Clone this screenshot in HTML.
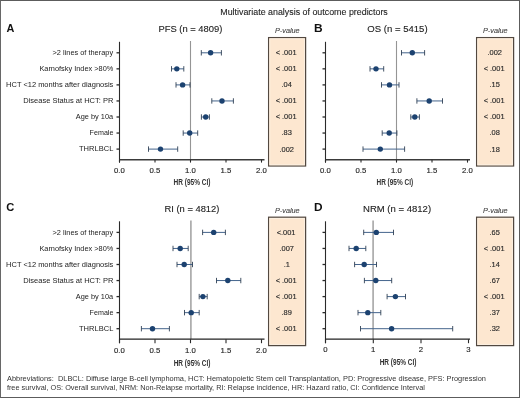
<!DOCTYPE html>
<html><head><meta charset="utf-8"><style>
html,body{margin:0;padding:0;background:#fff;}
body{width:520px;height:398px;overflow:hidden;position:relative;font-family:"Liberation Sans", sans-serif;}
#frame{position:absolute;left:0;top:0;width:518px;height:396px;border:1px solid #5c5c5c;border-left-color:#676767;}
svg{position:absolute;left:0;top:0;will-change:transform;filter:blur(0.3px);}
</style></head><body>
<div id="frame"></div>
<svg width="520" height="398" viewBox="0 0 520 398" font-family='"Liberation Sans", sans-serif'>
<text x="220.27" y="14.80" font-size="8.9" fill="#222" textLength="167.55" lengthAdjust="spacingAndGlyphs" xml:space="preserve" stroke="#222" stroke-width="0.1">Multivariate analysis of outcome predictors</text>
<text x="6.44" y="31.50" font-size="10.4" font-weight="bold" fill="#111" textLength="7.85" lengthAdjust="spacingAndGlyphs" xml:space="preserve">A</text>
<text x="158.43" y="32.20" font-size="9.3" fill="#222" textLength="63.95" lengthAdjust="spacingAndGlyphs" xml:space="preserve" stroke="#222" stroke-width="0.12">PFS (n = 4809)</text>
<line x1="190.5" y1="41" x2="190.5" y2="159.5" stroke="#959595" stroke-width="1.1"/>
<line x1="119.5" y1="41.8" x2="119.5" y2="162.6" stroke="#2a2a2a" stroke-width="1.1"/>
<line x1="119.5" y1="159.7" x2="264.5" y2="159.7" stroke="#3a3a3a" stroke-width="1.45"/>
<line x1="119.5" y1="159.7" x2="119.5" y2="162.6" stroke="#2a2a2a" stroke-width="1.1"/>
<text x="114.00" y="173.00" font-size="7.3" fill="#2a2a2a" textLength="10.80" lengthAdjust="spacingAndGlyphs" stroke="#2a2a2a" stroke-width="0.15">0.0</text>
<line x1="155" y1="159.7" x2="155" y2="162.6" stroke="#2a2a2a" stroke-width="1.1"/>
<text x="149.50" y="173.00" font-size="7.3" fill="#2a2a2a" textLength="10.80" lengthAdjust="spacingAndGlyphs" stroke="#2a2a2a" stroke-width="0.15">0.5</text>
<line x1="190.5" y1="159.7" x2="190.5" y2="162.6" stroke="#2a2a2a" stroke-width="1.1"/>
<text x="185.00" y="173.00" font-size="7.3" fill="#2a2a2a" textLength="10.80" lengthAdjust="spacingAndGlyphs" stroke="#2a2a2a" stroke-width="0.15">1.0</text>
<line x1="226" y1="159.7" x2="226" y2="162.6" stroke="#2a2a2a" stroke-width="1.1"/>
<text x="220.50" y="173.00" font-size="7.3" fill="#2a2a2a" textLength="10.80" lengthAdjust="spacingAndGlyphs" stroke="#2a2a2a" stroke-width="0.15">1.5</text>
<line x1="261.5" y1="159.7" x2="261.5" y2="162.6" stroke="#2a2a2a" stroke-width="1.1"/>
<text x="256.00" y="173.00" font-size="7.3" fill="#2a2a2a" textLength="10.80" lengthAdjust="spacingAndGlyphs" stroke="#2a2a2a" stroke-width="0.15">2.0</text>
<text x="173.57" y="185.10" font-size="8.3" font-weight="bold" fill="#333" textLength="36.95" lengthAdjust="spacingAndGlyphs" xml:space="preserve">HR (95% CI)</text>
<line x1="116.5" y1="52.8" x2="119.5" y2="52.8" stroke="#2a2a2a" stroke-width="1.3"/>
<text x="52.54" y="54.60" font-size="7.75" fill="#222" textLength="60.57" lengthAdjust="spacingAndGlyphs" xml:space="preserve">&gt;2 lines of therapy</text>
<line x1="201.3" y1="52.8" x2="221.4" y2="52.8" stroke="#44648c" stroke-width="1"/>
<line x1="201.3" y1="50.099999999999994" x2="201.3" y2="55.5" stroke="#2f3f54" stroke-width="0.9"/>
<line x1="221.4" y1="50.099999999999994" x2="221.4" y2="55.5" stroke="#2f3f54" stroke-width="0.9"/>
<circle cx="210.6" cy="52.8" r="2.7" fill="#1c4270"/>
<line x1="116.5" y1="68.85" x2="119.5" y2="68.85" stroke="#2a2a2a" stroke-width="1.3"/>
<text x="39.40" y="70.65" font-size="7.75" fill="#222" textLength="73.96" lengthAdjust="spacingAndGlyphs" xml:space="preserve">Karnofsky Index &gt;80%</text>
<line x1="171.5" y1="68.85" x2="183.8" y2="68.85" stroke="#44648c" stroke-width="1"/>
<line x1="171.5" y1="66.14999999999999" x2="171.5" y2="71.55" stroke="#2f3f54" stroke-width="0.9"/>
<line x1="183.8" y1="66.14999999999999" x2="183.8" y2="71.55" stroke="#2f3f54" stroke-width="0.9"/>
<circle cx="176.8" cy="68.85" r="2.7" fill="#1c4270"/>
<line x1="116.5" y1="84.9" x2="119.5" y2="84.9" stroke="#2a2a2a" stroke-width="1.3"/>
<text x="6.09" y="86.70" font-size="7.75" fill="#222" textLength="107.28" lengthAdjust="spacingAndGlyphs" xml:space="preserve">HCT &lt;12 months after diagnosis</text>
<line x1="176" y1="84.9" x2="190" y2="84.9" stroke="#44648c" stroke-width="1"/>
<line x1="176" y1="82.2" x2="176" y2="87.60000000000001" stroke="#2f3f54" stroke-width="0.9"/>
<line x1="190" y1="82.2" x2="190" y2="87.60000000000001" stroke="#2f3f54" stroke-width="0.9"/>
<circle cx="182.6" cy="84.9" r="2.7" fill="#1c4270"/>
<line x1="116.5" y1="100.95" x2="119.5" y2="100.95" stroke="#2a2a2a" stroke-width="1.3"/>
<text x="23.18" y="102.75" font-size="7.75" fill="#222" textLength="90.27" lengthAdjust="spacingAndGlyphs" xml:space="preserve">Disease Status at HCT: PR</text>
<line x1="211.8" y1="100.95" x2="233.4" y2="100.95" stroke="#44648c" stroke-width="1"/>
<line x1="211.8" y1="98.25" x2="211.8" y2="103.65" stroke="#2f3f54" stroke-width="0.9"/>
<line x1="233.4" y1="98.25" x2="233.4" y2="103.65" stroke="#2f3f54" stroke-width="0.9"/>
<circle cx="222" cy="100.95" r="2.7" fill="#1c4270"/>
<line x1="116.5" y1="117.0" x2="119.5" y2="117.0" stroke="#2a2a2a" stroke-width="1.3"/>
<text x="75.79" y="118.80" font-size="7.75" fill="#222" textLength="37.31" lengthAdjust="spacingAndGlyphs" xml:space="preserve">Age by 10a</text>
<line x1="201.4" y1="117.0" x2="209.4" y2="117.0" stroke="#44648c" stroke-width="1"/>
<line x1="201.4" y1="114.3" x2="201.4" y2="119.7" stroke="#2f3f54" stroke-width="0.9"/>
<line x1="209.4" y1="114.3" x2="209.4" y2="119.7" stroke="#2f3f54" stroke-width="0.9"/>
<circle cx="205.7" cy="117.0" r="2.7" fill="#1c4270"/>
<line x1="116.5" y1="133.05" x2="119.5" y2="133.05" stroke="#2a2a2a" stroke-width="1.3"/>
<text x="89.61" y="134.85" font-size="7.75" fill="#222" textLength="23.80" lengthAdjust="spacingAndGlyphs" xml:space="preserve">Female</text>
<line x1="183.2" y1="133.05" x2="197.7" y2="133.05" stroke="#44648c" stroke-width="1"/>
<line x1="183.2" y1="130.35000000000002" x2="183.2" y2="135.75" stroke="#2f3f54" stroke-width="0.9"/>
<line x1="197.7" y1="130.35000000000002" x2="197.7" y2="135.75" stroke="#2f3f54" stroke-width="0.9"/>
<circle cx="189.7" cy="133.05" r="2.7" fill="#1c4270"/>
<line x1="116.5" y1="149.10000000000002" x2="119.5" y2="149.10000000000002" stroke="#2a2a2a" stroke-width="1.3"/>
<text x="79.03" y="150.90" font-size="7.75" fill="#222" textLength="34.31" lengthAdjust="spacingAndGlyphs" xml:space="preserve">THRLBCL</text>
<line x1="148.5" y1="149.10000000000002" x2="177.7" y2="149.10000000000002" stroke="#44648c" stroke-width="1"/>
<line x1="148.5" y1="146.40000000000003" x2="148.5" y2="151.8" stroke="#2f3f54" stroke-width="0.9"/>
<line x1="177.7" y1="146.40000000000003" x2="177.7" y2="151.8" stroke="#2f3f54" stroke-width="0.9"/>
<circle cx="160.5" cy="149.10000000000002" r="2.7" fill="#1c4270"/>
<text x="274.98" y="33.00" font-size="7.4" font-style="italic" fill="#444" textLength="24.68" lengthAdjust="spacingAndGlyphs" xml:space="preserve" stroke="#444" stroke-width="0.12">P-value</text>
<rect x="268.6" y="37.6" width="37" height="128.4" fill="#fde7d0" stroke="#524840" stroke-width="1.25"/>
<rect x="269.8" y="38.800000000000004" width="34.6" height="126" fill="none" stroke="#fcf0e2" stroke-width="0.9"/>
<text x="275.63" y="55.20" font-size="7.6" fill="#2a2a2a" textLength="20.92" lengthAdjust="spacingAndGlyphs" xml:space="preserve" stroke="#2a2a2a" stroke-width="0.15">&lt; .001</text>
<text x="275.63" y="71.25" font-size="7.6" fill="#2a2a2a" textLength="20.92" lengthAdjust="spacingAndGlyphs" xml:space="preserve" stroke="#2a2a2a" stroke-width="0.15">&lt; .001</text>
<text x="281.49" y="87.30" font-size="7.6" fill="#2a2a2a" textLength="10.36" lengthAdjust="spacingAndGlyphs" xml:space="preserve" stroke="#2a2a2a" stroke-width="0.15">.04</text>
<text x="275.63" y="103.35" font-size="7.6" fill="#2a2a2a" textLength="20.92" lengthAdjust="spacingAndGlyphs" xml:space="preserve" stroke="#2a2a2a" stroke-width="0.15">&lt; .001</text>
<text x="275.63" y="119.40" font-size="7.6" fill="#2a2a2a" textLength="20.92" lengthAdjust="spacingAndGlyphs" xml:space="preserve" stroke="#2a2a2a" stroke-width="0.15">&lt; .001</text>
<text x="281.54" y="135.45" font-size="7.6" fill="#2a2a2a" textLength="10.36" lengthAdjust="spacingAndGlyphs" xml:space="preserve" stroke="#2a2a2a" stroke-width="0.15">.83</text>
<text x="279.50" y="151.50" font-size="7.6" fill="#2a2a2a" textLength="14.50" lengthAdjust="spacingAndGlyphs" xml:space="preserve" stroke="#2a2a2a" stroke-width="0.15">.002</text>
<text x="314.11" y="31.50" font-size="10.4" font-weight="bold" fill="#111" textLength="8.63" lengthAdjust="spacingAndGlyphs" xml:space="preserve">B</text>
<text x="367.25" y="32.20" font-size="9.3" fill="#222" textLength="60.34" lengthAdjust="spacingAndGlyphs" xml:space="preserve" stroke="#222" stroke-width="0.12">OS (n = 5415)</text>
<line x1="396.5" y1="41" x2="396.5" y2="159.5" stroke="#959595" stroke-width="1.1"/>
<line x1="325.5" y1="41.8" x2="325.5" y2="162.6" stroke="#2a2a2a" stroke-width="1.1"/>
<line x1="325.5" y1="159.7" x2="470" y2="159.7" stroke="#3a3a3a" stroke-width="1.45"/>
<line x1="325.5" y1="159.7" x2="325.5" y2="162.6" stroke="#2a2a2a" stroke-width="1.1"/>
<text x="320.00" y="172.70" font-size="7.3" fill="#2a2a2a" textLength="10.80" lengthAdjust="spacingAndGlyphs" stroke="#2a2a2a" stroke-width="0.15">0.0</text>
<line x1="361" y1="159.7" x2="361" y2="162.6" stroke="#2a2a2a" stroke-width="1.1"/>
<text x="355.50" y="172.70" font-size="7.3" fill="#2a2a2a" textLength="10.80" lengthAdjust="spacingAndGlyphs" stroke="#2a2a2a" stroke-width="0.15">0.5</text>
<line x1="396.5" y1="159.7" x2="396.5" y2="162.6" stroke="#2a2a2a" stroke-width="1.1"/>
<text x="391.00" y="172.70" font-size="7.3" fill="#2a2a2a" textLength="10.80" lengthAdjust="spacingAndGlyphs" stroke="#2a2a2a" stroke-width="0.15">1.0</text>
<line x1="432" y1="159.7" x2="432" y2="162.6" stroke="#2a2a2a" stroke-width="1.1"/>
<text x="426.50" y="172.70" font-size="7.3" fill="#2a2a2a" textLength="10.80" lengthAdjust="spacingAndGlyphs" stroke="#2a2a2a" stroke-width="0.15">1.5</text>
<line x1="467.5" y1="159.7" x2="467.5" y2="162.6" stroke="#2a2a2a" stroke-width="1.1"/>
<text x="462.00" y="172.70" font-size="7.3" fill="#2a2a2a" textLength="10.80" lengthAdjust="spacingAndGlyphs" stroke="#2a2a2a" stroke-width="0.15">2.0</text>
<text x="376.47" y="184.80" font-size="8.3" font-weight="bold" fill="#333" textLength="36.65" lengthAdjust="spacingAndGlyphs" xml:space="preserve">HR (95% CI)</text>
<line x1="322.5" y1="52.8" x2="325.5" y2="52.8" stroke="#2a2a2a" stroke-width="1.3"/>
<line x1="401.5" y1="52.8" x2="424.6" y2="52.8" stroke="#44648c" stroke-width="1"/>
<line x1="401.5" y1="50.099999999999994" x2="401.5" y2="55.5" stroke="#2f3f54" stroke-width="0.9"/>
<line x1="424.6" y1="50.099999999999994" x2="424.6" y2="55.5" stroke="#2f3f54" stroke-width="0.9"/>
<circle cx="412.3" cy="52.8" r="2.7" fill="#1c4270"/>
<line x1="322.5" y1="68.85" x2="325.5" y2="68.85" stroke="#2a2a2a" stroke-width="1.3"/>
<line x1="370" y1="68.85" x2="383.7" y2="68.85" stroke="#44648c" stroke-width="1"/>
<line x1="370" y1="66.14999999999999" x2="370" y2="71.55" stroke="#2f3f54" stroke-width="0.9"/>
<line x1="383.7" y1="66.14999999999999" x2="383.7" y2="71.55" stroke="#2f3f54" stroke-width="0.9"/>
<circle cx="376" cy="68.85" r="2.7" fill="#1c4270"/>
<line x1="322.5" y1="84.9" x2="325.5" y2="84.9" stroke="#2a2a2a" stroke-width="1.3"/>
<line x1="381.5" y1="84.9" x2="399" y2="84.9" stroke="#44648c" stroke-width="1"/>
<line x1="381.5" y1="82.2" x2="381.5" y2="87.60000000000001" stroke="#2f3f54" stroke-width="0.9"/>
<line x1="399" y1="82.2" x2="399" y2="87.60000000000001" stroke="#2f3f54" stroke-width="0.9"/>
<circle cx="389.5" cy="84.9" r="2.7" fill="#1c4270"/>
<line x1="322.5" y1="100.95" x2="325.5" y2="100.95" stroke="#2a2a2a" stroke-width="1.3"/>
<line x1="416.9" y1="100.95" x2="442.5" y2="100.95" stroke="#44648c" stroke-width="1"/>
<line x1="416.9" y1="98.25" x2="416.9" y2="103.65" stroke="#2f3f54" stroke-width="0.9"/>
<line x1="442.5" y1="98.25" x2="442.5" y2="103.65" stroke="#2f3f54" stroke-width="0.9"/>
<circle cx="429.2" cy="100.95" r="2.7" fill="#1c4270"/>
<line x1="322.5" y1="117.0" x2="325.5" y2="117.0" stroke="#2a2a2a" stroke-width="1.3"/>
<line x1="410.8" y1="117.0" x2="419.4" y2="117.0" stroke="#44648c" stroke-width="1"/>
<line x1="410.8" y1="114.3" x2="410.8" y2="119.7" stroke="#2f3f54" stroke-width="0.9"/>
<line x1="419.4" y1="114.3" x2="419.4" y2="119.7" stroke="#2f3f54" stroke-width="0.9"/>
<circle cx="414.8" cy="117.0" r="2.7" fill="#1c4270"/>
<line x1="322.5" y1="133.05" x2="325.5" y2="133.05" stroke="#2a2a2a" stroke-width="1.3"/>
<line x1="382.2" y1="133.05" x2="396.9" y2="133.05" stroke="#44648c" stroke-width="1"/>
<line x1="382.2" y1="130.35000000000002" x2="382.2" y2="135.75" stroke="#2f3f54" stroke-width="0.9"/>
<line x1="396.9" y1="130.35000000000002" x2="396.9" y2="135.75" stroke="#2f3f54" stroke-width="0.9"/>
<circle cx="389.2" cy="133.05" r="2.7" fill="#1c4270"/>
<line x1="322.5" y1="149.10000000000002" x2="325.5" y2="149.10000000000002" stroke="#2a2a2a" stroke-width="1.3"/>
<line x1="363" y1="149.10000000000002" x2="404.6" y2="149.10000000000002" stroke="#44648c" stroke-width="1"/>
<line x1="363" y1="146.40000000000003" x2="363" y2="151.8" stroke="#2f3f54" stroke-width="0.9"/>
<line x1="404.6" y1="146.40000000000003" x2="404.6" y2="151.8" stroke="#2f3f54" stroke-width="0.9"/>
<circle cx="380.3" cy="149.10000000000002" r="2.7" fill="#1c4270"/>
<text x="482.98" y="33.00" font-size="7.4" font-style="italic" fill="#444" textLength="24.68" lengthAdjust="spacingAndGlyphs" xml:space="preserve" stroke="#444" stroke-width="0.12">P-value</text>
<rect x="476.6" y="37.6" width="37" height="128.4" fill="#fde7d0" stroke="#524840" stroke-width="1.25"/>
<rect x="477.8" y="38.800000000000004" width="34.6" height="126" fill="none" stroke="#fcf0e2" stroke-width="0.9"/>
<text x="487.50" y="55.20" font-size="7.6" fill="#2a2a2a" textLength="14.50" lengthAdjust="spacingAndGlyphs" xml:space="preserve" stroke="#2a2a2a" stroke-width="0.15">.002</text>
<text x="483.63" y="71.25" font-size="7.6" fill="#2a2a2a" textLength="20.92" lengthAdjust="spacingAndGlyphs" xml:space="preserve" stroke="#2a2a2a" stroke-width="0.15">&lt; .001</text>
<text x="489.54" y="87.30" font-size="7.6" fill="#2a2a2a" textLength="10.36" lengthAdjust="spacingAndGlyphs" xml:space="preserve" stroke="#2a2a2a" stroke-width="0.15">.15</text>
<text x="483.63" y="103.35" font-size="7.6" fill="#2a2a2a" textLength="20.92" lengthAdjust="spacingAndGlyphs" xml:space="preserve" stroke="#2a2a2a" stroke-width="0.15">&lt; .001</text>
<text x="483.63" y="119.40" font-size="7.6" fill="#2a2a2a" textLength="20.92" lengthAdjust="spacingAndGlyphs" xml:space="preserve" stroke="#2a2a2a" stroke-width="0.15">&lt; .001</text>
<text x="489.54" y="135.45" font-size="7.6" fill="#2a2a2a" textLength="10.36" lengthAdjust="spacingAndGlyphs" xml:space="preserve" stroke="#2a2a2a" stroke-width="0.15">.08</text>
<text x="489.54" y="151.50" font-size="7.6" fill="#2a2a2a" textLength="10.36" lengthAdjust="spacingAndGlyphs" xml:space="preserve" stroke="#2a2a2a" stroke-width="0.15">.18</text>
<text x="6.24" y="211.00" font-size="10.4" font-weight="bold" fill="#111" textLength="8.06" lengthAdjust="spacingAndGlyphs" xml:space="preserve">C</text>
<text x="164.53" y="212.00" font-size="9.3" fill="#222" textLength="54.85" lengthAdjust="spacingAndGlyphs" xml:space="preserve" stroke="#222" stroke-width="0.12">RI (n = 4812)</text>
<line x1="190.9" y1="220.5" x2="190.9" y2="339.0" stroke="#ababab" stroke-width="1.7"/>
<line x1="119.5" y1="221.3" x2="119.5" y2="343.2" stroke="#2a2a2a" stroke-width="1.1"/>
<line x1="119.5" y1="339.2" x2="264.5" y2="339.2" stroke="#222" stroke-width="1.25"/>
<line x1="119.5" y1="339.2" x2="119.5" y2="343.2" stroke="#2a2a2a" stroke-width="1.1"/>
<text x="114.00" y="353.20" font-size="7.3" fill="#2a2a2a" textLength="10.80" lengthAdjust="spacingAndGlyphs" stroke="#2a2a2a" stroke-width="0.15">0.0</text>
<line x1="155" y1="339.2" x2="155" y2="343.2" stroke="#2a2a2a" stroke-width="1.1"/>
<text x="149.50" y="353.20" font-size="7.3" fill="#2a2a2a" textLength="10.80" lengthAdjust="spacingAndGlyphs" stroke="#2a2a2a" stroke-width="0.15">0.5</text>
<line x1="190.5" y1="339.2" x2="190.5" y2="343.2" stroke="#2a2a2a" stroke-width="1.1"/>
<text x="185.00" y="353.20" font-size="7.3" fill="#2a2a2a" textLength="10.80" lengthAdjust="spacingAndGlyphs" stroke="#2a2a2a" stroke-width="0.15">1.0</text>
<line x1="226" y1="339.2" x2="226" y2="343.2" stroke="#2a2a2a" stroke-width="1.1"/>
<text x="220.50" y="353.20" font-size="7.3" fill="#2a2a2a" textLength="10.80" lengthAdjust="spacingAndGlyphs" stroke="#2a2a2a" stroke-width="0.15">1.5</text>
<line x1="261.5" y1="339.2" x2="261.5" y2="343.2" stroke="#2a2a2a" stroke-width="1.1"/>
<text x="256.00" y="353.20" font-size="7.3" fill="#2a2a2a" textLength="10.80" lengthAdjust="spacingAndGlyphs" stroke="#2a2a2a" stroke-width="0.15">2.0</text>
<text x="173.67" y="366.30" font-size="8.3" font-weight="bold" fill="#333" textLength="36.85" lengthAdjust="spacingAndGlyphs" xml:space="preserve">HR (95% CI)</text>
<line x1="116.5" y1="232.39999999999998" x2="119.5" y2="232.39999999999998" stroke="#2a2a2a" stroke-width="1.3"/>
<text x="52.54" y="234.80" font-size="7.75" fill="#222" textLength="60.57" lengthAdjust="spacingAndGlyphs" xml:space="preserve">&gt;2 lines of therapy</text>
<line x1="202.6" y1="232.39999999999998" x2="225.4" y2="232.39999999999998" stroke="#44648c" stroke-width="1"/>
<line x1="202.6" y1="229.7" x2="202.6" y2="235.09999999999997" stroke="#2f3f54" stroke-width="0.9"/>
<line x1="225.4" y1="229.7" x2="225.4" y2="235.09999999999997" stroke="#2f3f54" stroke-width="0.9"/>
<circle cx="213.7" cy="232.39999999999998" r="2.7" fill="#1c4270"/>
<line x1="116.5" y1="248.45" x2="119.5" y2="248.45" stroke="#2a2a2a" stroke-width="1.3"/>
<text x="39.40" y="250.85" font-size="7.75" fill="#222" textLength="73.96" lengthAdjust="spacingAndGlyphs" xml:space="preserve">Karnofsky Index &gt;80%</text>
<line x1="173" y1="248.45" x2="188.2" y2="248.45" stroke="#44648c" stroke-width="1"/>
<line x1="173" y1="245.75" x2="173" y2="251.14999999999998" stroke="#2f3f54" stroke-width="0.9"/>
<line x1="188.2" y1="245.75" x2="188.2" y2="251.14999999999998" stroke="#2f3f54" stroke-width="0.9"/>
<circle cx="180.2" cy="248.45" r="2.7" fill="#1c4270"/>
<line x1="116.5" y1="264.5" x2="119.5" y2="264.5" stroke="#2a2a2a" stroke-width="1.3"/>
<text x="6.09" y="266.90" font-size="7.75" fill="#222" textLength="107.28" lengthAdjust="spacingAndGlyphs" xml:space="preserve">HCT &lt;12 months after diagnosis</text>
<line x1="177" y1="264.5" x2="192.5" y2="264.5" stroke="#44648c" stroke-width="1"/>
<line x1="177" y1="261.8" x2="177" y2="267.2" stroke="#2f3f54" stroke-width="0.9"/>
<line x1="192.5" y1="261.8" x2="192.5" y2="267.2" stroke="#2f3f54" stroke-width="0.9"/>
<circle cx="184.2" cy="264.5" r="2.7" fill="#1c4270"/>
<line x1="116.5" y1="280.55" x2="119.5" y2="280.55" stroke="#2a2a2a" stroke-width="1.3"/>
<text x="23.18" y="282.95" font-size="7.75" fill="#222" textLength="90.27" lengthAdjust="spacingAndGlyphs" xml:space="preserve">Disease Status at HCT: PR</text>
<line x1="216.5" y1="280.55" x2="240.8" y2="280.55" stroke="#44648c" stroke-width="1"/>
<line x1="216.5" y1="277.85" x2="216.5" y2="283.25" stroke="#2f3f54" stroke-width="0.9"/>
<line x1="240.8" y1="277.85" x2="240.8" y2="283.25" stroke="#2f3f54" stroke-width="0.9"/>
<circle cx="227.8" cy="280.55" r="2.7" fill="#1c4270"/>
<line x1="116.5" y1="296.6" x2="119.5" y2="296.6" stroke="#2a2a2a" stroke-width="1.3"/>
<text x="75.79" y="299.00" font-size="7.75" fill="#222" textLength="37.31" lengthAdjust="spacingAndGlyphs" xml:space="preserve">Age by 10a</text>
<line x1="199.2" y1="296.6" x2="207.2" y2="296.6" stroke="#44648c" stroke-width="1"/>
<line x1="199.2" y1="293.90000000000003" x2="199.2" y2="299.3" stroke="#2f3f54" stroke-width="0.9"/>
<line x1="207.2" y1="293.90000000000003" x2="207.2" y2="299.3" stroke="#2f3f54" stroke-width="0.9"/>
<circle cx="202.9" cy="296.6" r="2.7" fill="#1c4270"/>
<line x1="116.5" y1="312.65" x2="119.5" y2="312.65" stroke="#2a2a2a" stroke-width="1.3"/>
<text x="89.61" y="315.05" font-size="7.75" fill="#222" textLength="23.80" lengthAdjust="spacingAndGlyphs" xml:space="preserve">Female</text>
<line x1="184.5" y1="312.65" x2="199.2" y2="312.65" stroke="#44648c" stroke-width="1"/>
<line x1="184.5" y1="309.95" x2="184.5" y2="315.34999999999997" stroke="#2f3f54" stroke-width="0.9"/>
<line x1="199.2" y1="309.95" x2="199.2" y2="315.34999999999997" stroke="#2f3f54" stroke-width="0.9"/>
<circle cx="191.2" cy="312.65" r="2.7" fill="#1c4270"/>
<line x1="116.5" y1="328.70000000000005" x2="119.5" y2="328.70000000000005" stroke="#2a2a2a" stroke-width="1.3"/>
<text x="79.03" y="331.10" font-size="7.75" fill="#222" textLength="34.31" lengthAdjust="spacingAndGlyphs" xml:space="preserve">THRLBCL</text>
<line x1="141.4" y1="328.70000000000005" x2="169.4" y2="328.70000000000005" stroke="#44648c" stroke-width="1"/>
<line x1="141.4" y1="326.00000000000006" x2="141.4" y2="331.40000000000003" stroke="#2f3f54" stroke-width="0.9"/>
<line x1="169.4" y1="326.00000000000006" x2="169.4" y2="331.40000000000003" stroke="#2f3f54" stroke-width="0.9"/>
<circle cx="152.5" cy="328.70000000000005" r="2.7" fill="#1c4270"/>
<text x="274.98" y="212.50" font-size="7.4" font-style="italic" fill="#444" textLength="24.68" lengthAdjust="spacingAndGlyphs" xml:space="preserve" stroke="#444" stroke-width="0.12">P-value</text>
<rect x="268.6" y="217.2" width="37" height="128.4" fill="#fde7d0" stroke="#524840" stroke-width="1.25"/>
<rect x="269.8" y="218.39999999999998" width="34.6" height="126" fill="none" stroke="#fcf0e2" stroke-width="0.9"/>
<text x="276.67" y="234.80" font-size="7.6" fill="#2a2a2a" textLength="18.85" lengthAdjust="spacingAndGlyphs" xml:space="preserve" stroke="#2a2a2a" stroke-width="0.15">&lt;.001</text>
<text x="279.50" y="250.85" font-size="7.6" fill="#2a2a2a" textLength="14.50" lengthAdjust="spacingAndGlyphs" xml:space="preserve" stroke="#2a2a2a" stroke-width="0.15">.007</text>
<text x="283.63" y="266.90" font-size="7.6" fill="#2a2a2a" textLength="6.21" lengthAdjust="spacingAndGlyphs" xml:space="preserve" stroke="#2a2a2a" stroke-width="0.15">.1</text>
<text x="275.63" y="282.95" font-size="7.6" fill="#2a2a2a" textLength="20.92" lengthAdjust="spacingAndGlyphs" xml:space="preserve" stroke="#2a2a2a" stroke-width="0.15">&lt; .001</text>
<text x="275.63" y="299.00" font-size="7.6" fill="#2a2a2a" textLength="20.92" lengthAdjust="spacingAndGlyphs" xml:space="preserve" stroke="#2a2a2a" stroke-width="0.15">&lt; .001</text>
<text x="281.56" y="315.05" font-size="7.6" fill="#2a2a2a" textLength="10.36" lengthAdjust="spacingAndGlyphs" xml:space="preserve" stroke="#2a2a2a" stroke-width="0.15">.89</text>
<text x="275.63" y="331.10" font-size="7.6" fill="#2a2a2a" textLength="20.92" lengthAdjust="spacingAndGlyphs" xml:space="preserve" stroke="#2a2a2a" stroke-width="0.15">&lt; .001</text>
<text x="314.12" y="211.00" font-size="10.4" font-weight="bold" fill="#111" textLength="8.57" lengthAdjust="spacingAndGlyphs" xml:space="preserve">D</text>
<text x="363.02" y="212.00" font-size="9.3" fill="#222" textLength="68.07" lengthAdjust="spacingAndGlyphs" xml:space="preserve" stroke="#222" stroke-width="0.12">NRM (n = 4812)</text>
<line x1="373.1" y1="220.5" x2="373.1" y2="339.0" stroke="#ababab" stroke-width="1.7"/>
<line x1="325.5" y1="221.3" x2="325.5" y2="343.2" stroke="#2a2a2a" stroke-width="1.1"/>
<line x1="325.5" y1="339.2" x2="470" y2="339.2" stroke="#222" stroke-width="1.25"/>
<line x1="325.5" y1="339.2" x2="325.5" y2="343.2" stroke="#2a2a2a" stroke-width="1.1"/>
<text x="323.24" y="351.80" font-size="7.3" fill="#2a2a2a" textLength="4.32" lengthAdjust="spacingAndGlyphs" stroke="#2a2a2a" stroke-width="0.15">0</text>
<line x1="373.3" y1="339.2" x2="373.3" y2="343.2" stroke="#2a2a2a" stroke-width="1.1"/>
<text x="371.04" y="351.80" font-size="7.3" fill="#2a2a2a" textLength="4.32" lengthAdjust="spacingAndGlyphs" stroke="#2a2a2a" stroke-width="0.15">1</text>
<line x1="421" y1="339.2" x2="421" y2="343.2" stroke="#2a2a2a" stroke-width="1.1"/>
<text x="418.74" y="351.80" font-size="7.3" fill="#2a2a2a" textLength="4.32" lengthAdjust="spacingAndGlyphs" stroke="#2a2a2a" stroke-width="0.15">2</text>
<line x1="468.5" y1="339.2" x2="468.5" y2="343.2" stroke="#2a2a2a" stroke-width="1.1"/>
<text x="466.24" y="351.80" font-size="7.3" fill="#2a2a2a" textLength="4.32" lengthAdjust="spacingAndGlyphs" stroke="#2a2a2a" stroke-width="0.15">3</text>
<text x="379.67" y="364.50" font-size="8.3" font-weight="bold" fill="#333" textLength="36.85" lengthAdjust="spacingAndGlyphs" xml:space="preserve">HR (95% CI)</text>
<line x1="322.5" y1="232.39999999999998" x2="325.5" y2="232.39999999999998" stroke="#2a2a2a" stroke-width="1.3"/>
<line x1="363.7" y1="232.39999999999998" x2="393.5" y2="232.39999999999998" stroke="#44648c" stroke-width="1"/>
<line x1="363.7" y1="229.7" x2="363.7" y2="235.09999999999997" stroke="#2f3f54" stroke-width="0.9"/>
<line x1="393.5" y1="229.7" x2="393.5" y2="235.09999999999997" stroke="#2f3f54" stroke-width="0.9"/>
<circle cx="376.3" cy="232.39999999999998" r="2.7" fill="#1c4270"/>
<line x1="322.5" y1="248.45" x2="325.5" y2="248.45" stroke="#2a2a2a" stroke-width="1.3"/>
<line x1="349" y1="248.45" x2="365.8" y2="248.45" stroke="#44648c" stroke-width="1"/>
<line x1="349" y1="245.75" x2="349" y2="251.14999999999998" stroke="#2f3f54" stroke-width="0.9"/>
<line x1="365.8" y1="245.75" x2="365.8" y2="251.14999999999998" stroke="#2f3f54" stroke-width="0.9"/>
<circle cx="356.2" cy="248.45" r="2.7" fill="#1c4270"/>
<line x1="322.5" y1="264.5" x2="325.5" y2="264.5" stroke="#2a2a2a" stroke-width="1.3"/>
<line x1="354.6" y1="264.5" x2="376.5" y2="264.5" stroke="#44648c" stroke-width="1"/>
<line x1="354.6" y1="261.8" x2="354.6" y2="267.2" stroke="#2f3f54" stroke-width="0.9"/>
<line x1="376.5" y1="261.8" x2="376.5" y2="267.2" stroke="#2f3f54" stroke-width="0.9"/>
<circle cx="364.2" cy="264.5" r="2.7" fill="#1c4270"/>
<line x1="322.5" y1="280.55" x2="325.5" y2="280.55" stroke="#2a2a2a" stroke-width="1.3"/>
<line x1="364.4" y1="280.55" x2="391.7" y2="280.55" stroke="#44648c" stroke-width="1"/>
<line x1="364.4" y1="277.85" x2="364.4" y2="283.25" stroke="#2f3f54" stroke-width="0.9"/>
<line x1="391.7" y1="277.85" x2="391.7" y2="283.25" stroke="#2f3f54" stroke-width="0.9"/>
<circle cx="375.8" cy="280.55" r="2.7" fill="#1c4270"/>
<line x1="322.5" y1="296.6" x2="325.5" y2="296.6" stroke="#2a2a2a" stroke-width="1.3"/>
<line x1="387.1" y1="296.6" x2="405.5" y2="296.6" stroke="#44648c" stroke-width="1"/>
<line x1="387.1" y1="293.90000000000003" x2="387.1" y2="299.3" stroke="#2f3f54" stroke-width="0.9"/>
<line x1="405.5" y1="293.90000000000003" x2="405.5" y2="299.3" stroke="#2f3f54" stroke-width="0.9"/>
<circle cx="395.4" cy="296.6" r="2.7" fill="#1c4270"/>
<line x1="322.5" y1="312.65" x2="325.5" y2="312.65" stroke="#2a2a2a" stroke-width="1.3"/>
<line x1="358" y1="312.65" x2="380.8" y2="312.65" stroke="#44648c" stroke-width="1"/>
<line x1="358" y1="309.95" x2="358" y2="315.34999999999997" stroke="#2f3f54" stroke-width="0.9"/>
<line x1="380.8" y1="309.95" x2="380.8" y2="315.34999999999997" stroke="#2f3f54" stroke-width="0.9"/>
<circle cx="367.8" cy="312.65" r="2.7" fill="#1c4270"/>
<line x1="322.5" y1="328.70000000000005" x2="325.5" y2="328.70000000000005" stroke="#2a2a2a" stroke-width="1.3"/>
<line x1="360.5" y1="328.70000000000005" x2="452.7" y2="328.70000000000005" stroke="#44648c" stroke-width="1"/>
<line x1="360.5" y1="326.00000000000006" x2="360.5" y2="331.40000000000003" stroke="#2f3f54" stroke-width="0.9"/>
<line x1="452.7" y1="326.00000000000006" x2="452.7" y2="331.40000000000003" stroke="#2f3f54" stroke-width="0.9"/>
<circle cx="391.6" cy="328.70000000000005" r="2.7" fill="#1c4270"/>
<text x="482.98" y="212.50" font-size="7.4" font-style="italic" fill="#444" textLength="24.68" lengthAdjust="spacingAndGlyphs" xml:space="preserve" stroke="#444" stroke-width="0.12">P-value</text>
<rect x="476.6" y="217.2" width="37" height="128.4" fill="#fde7d0" stroke="#524840" stroke-width="1.25"/>
<rect x="477.8" y="218.39999999999998" width="34.6" height="126" fill="none" stroke="#fcf0e2" stroke-width="0.9"/>
<text x="489.54" y="234.80" font-size="7.6" fill="#2a2a2a" textLength="10.36" lengthAdjust="spacingAndGlyphs" xml:space="preserve" stroke="#2a2a2a" stroke-width="0.15">.65</text>
<text x="483.63" y="250.85" font-size="7.6" fill="#2a2a2a" textLength="20.92" lengthAdjust="spacingAndGlyphs" xml:space="preserve" stroke="#2a2a2a" stroke-width="0.15">&lt; .001</text>
<text x="489.49" y="266.90" font-size="7.6" fill="#2a2a2a" textLength="10.36" lengthAdjust="spacingAndGlyphs" xml:space="preserve" stroke="#2a2a2a" stroke-width="0.15">.14</text>
<text x="489.57" y="282.95" font-size="7.6" fill="#2a2a2a" textLength="10.36" lengthAdjust="spacingAndGlyphs" xml:space="preserve" stroke="#2a2a2a" stroke-width="0.15">.67</text>
<text x="483.63" y="299.00" font-size="7.6" fill="#2a2a2a" textLength="20.92" lengthAdjust="spacingAndGlyphs" xml:space="preserve" stroke="#2a2a2a" stroke-width="0.15">&lt; .001</text>
<text x="489.57" y="315.05" font-size="7.6" fill="#2a2a2a" textLength="10.36" lengthAdjust="spacingAndGlyphs" xml:space="preserve" stroke="#2a2a2a" stroke-width="0.15">.37</text>
<text x="489.57" y="331.10" font-size="7.6" fill="#2a2a2a" textLength="10.36" lengthAdjust="spacingAndGlyphs" xml:space="preserve" stroke="#2a2a2a" stroke-width="0.15">.32</text>
<text x="6.99" y="380.50" font-size="7.8" fill="#333" textLength="478.99" lengthAdjust="spacingAndGlyphs" xml:space="preserve">Abbreviations:  DLBCL: Diffuse large B-cell lymphoma, HCT: Hematopoietic Stem cell Transplantation, PD: Progressive disease, PFS: Progression</text>
<text x="6.90" y="389.90" font-size="7.8" fill="#333" textLength="417.99" lengthAdjust="spacingAndGlyphs" xml:space="preserve">free survival, OS: Overall survival, NRM: Non-Relapse mortality, RI: Relapse incidence, HR: Hazard ratio, CI: Confidence Interval</text>
</svg>
</body></html>
